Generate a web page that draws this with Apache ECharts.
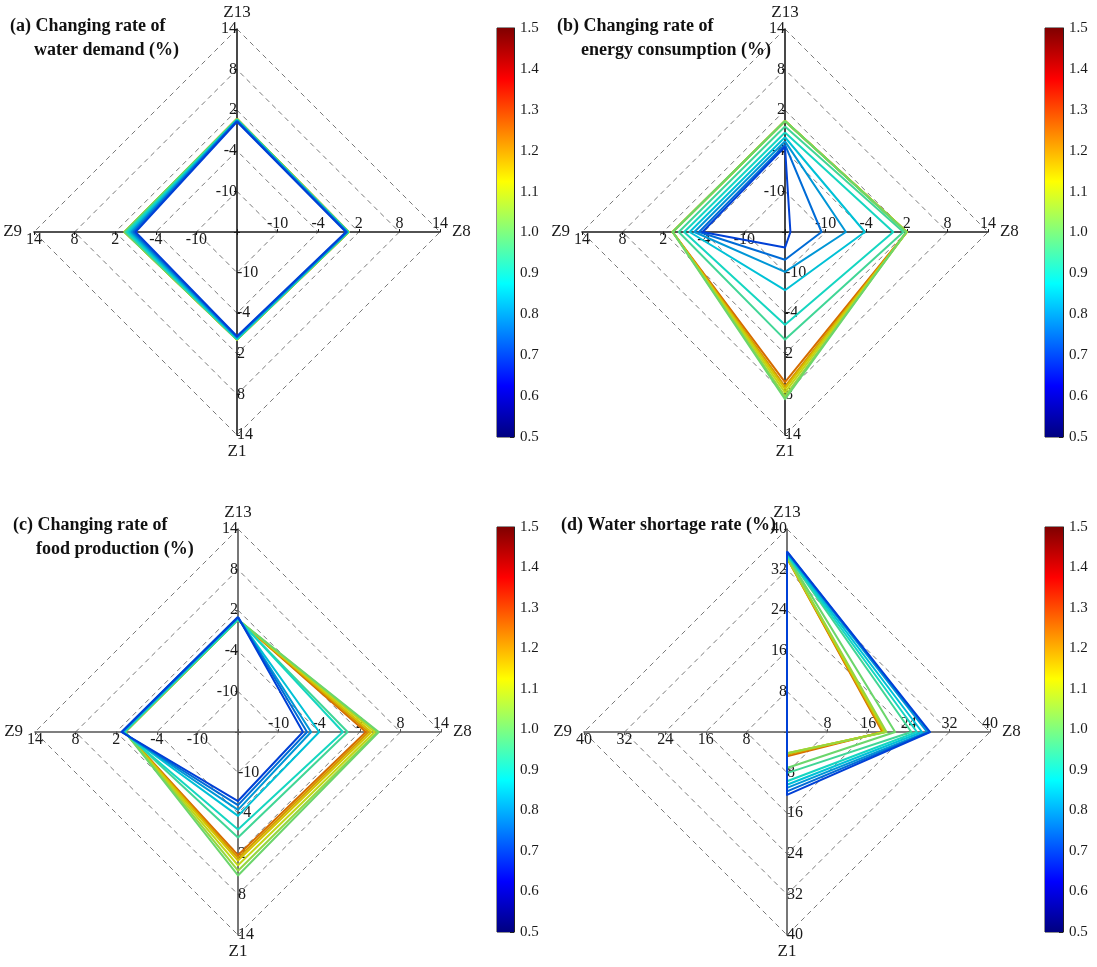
<!DOCTYPE html>
<html>
<head>
<meta charset="utf-8">
<script src="https://cdn.jsdelivr.net/npm/echarts@6/dist/echarts.min.js"></script>
<style>
html,body{margin:0;padding:0;background:#fff;}
#chart{width:1097px;height:967px;}
</style>
</head>
<body>
<div id="chart"></div>
<script>
// ---- data ----
const params = [0.7, 0.75, 0.8, 0.85, 0.9, 0.95, 1.0, 1.05, 1.1, 1.15, 1.2, 1.25];
const axisNames = ['Z13', 'Z9', 'Z1', 'Z8']; // counter-clockwise from top

// (a) changing rate of water demand (%)
const aZ13 = [0.3, 0.4, 0.5, 0.5, 0.6, 0.6, 0.7, 0.7, 0.7, 0.7, 0.7, 0.7];
const aZ8  = [0.1, 0.2, 0.3, 0.3, 0.4, 0.4, 0.5, 0.5, 0.5, 0.5, 0.5, 0.5];
const aZ1  = [-0.6, -0.5, -0.4, -0.3, -0.2, -0.2, -0.1, -0.1, -0.1, -0.1, -0.1, -0.1];
const aZ9  = [-1.0, -0.7, -0.4, -0.1, 0.2, 0.4, 0.6, 0.6, 0.6, 0.6, 0.6, 0.6];

// (b) changing rate of energy consumption (%)
const bZ13 = [-3.4, -3.1, -2.6, -2.0, -1.3, -0.4, 0.4, 0.4, 0.4, 0.4, 0.4, 0.4];
const bZ8  = [-15.2, -10.6, -7.0, -4.2, 0.0, 1.5, 1.9, 2.0, 2.0, 2.0, 2.0, 2.0];
const bZ1  = [-13.7, -11.9, -10.1, -7.4, -2.3, -0.1, 8.7, 8.3, 7.7, 7.2, 6.8, 6.2];
const bZ9  = [-3.8, -3.3, -2.6, -1.9, -1.1, -0.3, 0.6, 0.6, 0.6, 0.6, 0.6, 0.6];

// (c) changing rate of food production (%)
const cZ13 = [1.0, 1.0, 0.9, 0.8, 0.7, 0.6, 0.6, 0.6, 0.6, 0.6, 0.6, 0.6];
const cZ8  = [-6.4, -5.8, -5.2, -4.0, -0.5, 0.2, 4.8, 4.6, 4.2, 3.7, 3.3, 2.9];
const cZ1  = [-5.8, -5.2, -4.5, -3.6, -1.6, -0.4, 5.2, 4.5, 3.7, 3.0, 2.6, 2.2];
const cZ9  = [1.2, 1.2, 1.1, 1.0, 0.9, 0.8, 0.7, 0.7, 0.7, 0.7, 0.7, 0.7];

// (d) water shortage rate (%)
const dZ13 = [35.6, 35.5, 35.4, 35.2, 35.0, 34.9, 34.7, 34.5, 34.4, 34.4, 34.3, 34.3];
const dZ8  = [28.2, 28.0, 27.6, 26.6, 25.6, 24.5, 21.3, 19.6, 19.4, 19.2, 19.0, 18.8];
const dZ1  = [12.4, 11.7, 11.0, 10.4, 9.7, 8.1, 7.1, 4.2, 4.2, 4.3, 4.5, 4.8];
const dZ9  = [0, 0, 0, 0, 0, 0, 0, 0, 0, 0, 0, 0];

// axis ranges
const rateRange = [-16, 14];
const shortRange = [0, 40];
// colour bar
const cbRange = [0.5, 1.5];
const cbInterval = 0.1;

const titlesLine1 = ['(a) Changing rate of', '(b) Changing rate of', '(c) Changing rate of', '(d) Water shortage rate (%)'];
const titlesLine2 = ['water demand (%)', 'energy consumption (%)', 'food production (%)', ''];

// ---- helpers ----
const SERIF = '"Liberation Serif","Times New Roman",serif';
function clamp(x){ return Math.max(0, Math.min(1, x)); }
function jetRGB(t){
  return [clamp(1.5 - Math.abs(4*t - 3)), clamp(1.5 - Math.abs(4*t - 2)), clamp(1.5 - Math.abs(4*t - 1))];
}
function rgbStr(c, f){ return 'rgb(' + c.map(v => Math.round(v*255*f)).join(',') + ')'; }
function jet(t){ return rgbStr(jetRGB(t), 1); }
function paramColor(p){ return rgbStr(jetRGB((p - cbRange[0]) / (cbRange[1] - cbRange[0])), 0.84); }

const panels = [
  {Z13:aZ13, Z8:aZ8, Z1:aZ1, Z9:aZ9, range:rateRange, center:[237,232], axisColor:'#1a1a1a'},
  {Z13:bZ13, Z8:bZ8, Z1:bZ1, Z9:bZ9, range:rateRange, center:[785,232], axisColor:'#1a1a1a'},
  {Z13:cZ13, Z8:cZ8, Z1:cZ1, Z9:cZ9, range:rateRange, center:[238,732], axisColor:'#555'},
  {Z13:dZ13, Z8:dZ8, Z1:dZ1, Z9:dZ9, range:shortRange, center:[787,732], axisColor:'#555'}
];
const titlePos = [
  [{left:10, top:17}, {left:34, top:41}],
  [{left:557, top:17}, {left:581, top:41}],
  [{left:13, top:516}, {left:36, top:540}],
  [{left:561, top:516}, {left:0, top:0}]
];
const cbGrids = [
  {left:497, top:28, width:17, height:409},
  {left:1045, top:28, width:18, height:409},
  {left:497, top:527, width:17, height:405},
  {left:1045, top:527, width:18, height:405}
];

const radars = [], series = [], titles = [], grids = [], xAxes = [], yAxes = [];

const jetStops = [0, 0.125, 0.375, 0.625, 0.875, 1].map(t => ({offset: 1 - t, color: jet(t)}));
jetStops[0].color = 'rgb(0,0,128)';
jetStops[jetStops.length-1].color = 'rgb(128,0,0)';

panels.forEach((p, i) => {
  const mn = p.range[0];
  radars.push({
    center: p.center,
    radius: 203,
    startAngle: 90,
    splitNumber: 5,
    shape: 'polygon',
    indicator: axisNames.map(n => ({name: n, min: p.range[0], max: p.range[1], nameGap: 3})),
    axisName: {color: '#1a1a1a', fontFamily: SERIF, fontSize: 17},
    axisNameGap: 3,
    nameGap: 3,
    axisLine: {lineStyle: {color: p.axisColor, width: 1.6}},
    axisTick: {show: true, length: 3, lineStyle: {color: p.axisColor}},
    axisLabel: {show: true, color: '#1a1a1a', fontFamily: SERIF, fontSize: 16, margin: 0,
      formatter: v => (v === mn ? '' : String(v))},
    splitLine: {lineStyle: {color: '#7a7a7a', type: [5, 4], width: 1}},
    splitArea: {show: false}
  });
  const items = [];
  for (let k = params.length - 1; k >= 0; k--) {
    items.push({
      value: [p.Z13[k], p.Z9[k], p.Z1[k], p.Z8[k]],
      lineStyle: {color: paramColor(params[k]), width: 2},
      itemStyle: {color: paramColor(params[k])}
    });
  }
  series.push({type: 'radar', radarIndex: i, symbol: 'none', silent: true, z: 3, data: items});

  titles.push(Object.assign({text: titlesLine1[i], padding: 0,
    textStyle: {fontFamily: SERIF, fontWeight: 'bold', fontSize: 18, color: '#111'}}, titlePos[i][0]));
  if (titlesLine2[i]) {
    titles.push(Object.assign({text: titlesLine2[i], padding: 0,
      textStyle: {fontFamily: SERIF, fontWeight: 'bold', fontSize: 18, color: '#111'}}, titlePos[i][1]));
  }

  // colour bar
  grids.push(Object.assign({show: true, borderColor: '#222', borderWidth: 1, backgroundColor: 'transparent'}, cbGrids[i]));
  xAxes.push({type: 'category', gridIndex: i, data: ['c'], show: false, boundaryGap: true});
  yAxes.push({type: 'value', gridIndex: i, min: cbRange[0], max: cbRange[1], interval: cbInterval, position: 'right',
    axisLine: {show: true, lineStyle: {color: '#222'}},
    axisTick: {show: true, inside: true, length: 4, lineStyle: {color: '#222'}},
    splitLine: {show: false},
    axisLabel: {color: '#1a1a1a', fontFamily: SERIF, fontSize: 15, margin: 6, formatter: v => v.toFixed(1)}});
  series.push({type: 'bar', xAxisIndex: i, yAxisIndex: i, stack: 'cb' + i, barWidth: '100%', silent: true,
    data: [cbRange[0]], itemStyle: {color: 'transparent'}});
  series.push({type: 'bar', xAxisIndex: i, yAxisIndex: i, stack: 'cb' + i, barWidth: '100%', silent: true,
    data: [cbRange[1] - cbRange[0]],
    itemStyle: {color: new echarts.graphic.LinearGradient(0, 0, 0, 1, jetStops)}});
});

const chart = echarts.init(document.getElementById('chart'), null, {renderer: 'canvas'});
chart.setOption({
  animation: false,
  backgroundColor: '#fff',
  title: titles,
  radar: radars,
  grid: grids,
  xAxis: xAxes,
  yAxis: yAxes,
  series: series
});
</script>
</body>
</html>
